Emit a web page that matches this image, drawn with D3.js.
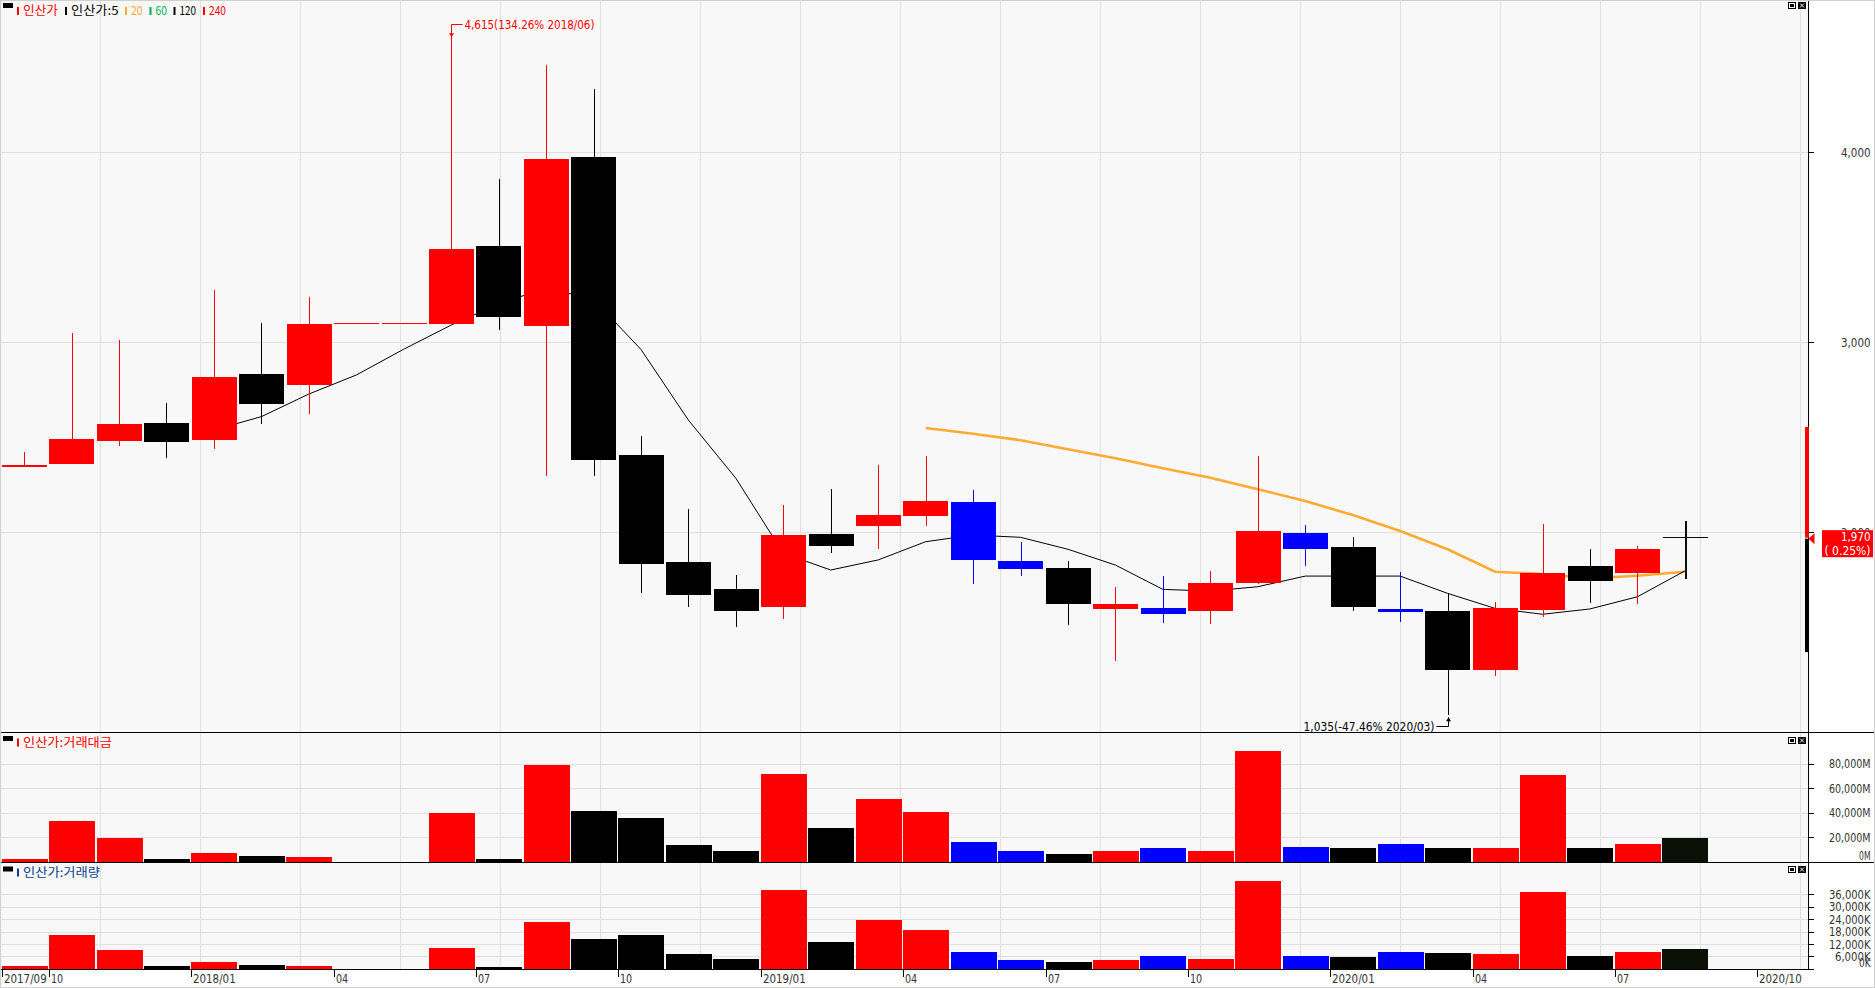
<!DOCTYPE html>
<html>
<head>
<meta charset="utf-8">
<title>인산가 월봉</title>
<script src="https://d3js.org/d3.v7.min.js"></script>
<style>
body { margin: 0; background: #fff; }
svg { display: block; }
text { font-family: "Liberation Sans Narrow", "DejaVu Sans Condensed", "Liberation Sans", sans-serif; }
text.kr { font-family: "Noto Sans CJK KR", sans-serif; }
</style>
</head>
<body>
<svg id="chart"></svg>
<script>
var width = 1875, height = 988;

// monthly candles, 2017/09 .. 2020/08 (2020/09, 2020/10 empty)
var months = ["2017/09","2017/10","2017/11","2017/12","2018/01","2018/02","2018/03","2018/04","2018/05","2018/06",
  "2018/07","2018/08","2018/09","2018/10","2018/11","2018/12","2019/01","2019/02","2019/03","2019/04",
  "2019/05","2019/06","2019/07","2019/08","2019/09","2019/10","2019/11","2019/12","2020/01","2020/02",
  "2020/03","2020/04","2020/05","2020/06","2020/07","2020/08","2020/09","2020/10"];
var opens  = [2345,2358,2478,2574,2484,2832,2774,3095,3095,3095,3504,3086,3976,2405,1842,1700,1607,1989,2032,2084,2158,1847,1810,1595,1600,1586,1732,1995,1921,1595,1584,1274,1589,1821,1784,1970];
var closes = [2352,2490,2566,2475,2816,2674,3095,3095,3095,3490,3133,3963,2379,1829,1668,1586,1984,1928,2089,2163,1853,1805,1621,1621,1568,1732,2005,1911,1605,1580,1274,1600,1784,1742,1911,1970];
var highs  = [2421,3050,3013,2679,3274,3102,3237,3095,3095,4615,3856,4460,4334,2505,2121,1774,2142,2226,2353,2400,2221,1947,1847,1711,1768,1795,2400,2037,1974,1789,1679,1632,2042,1911,1926,2058];
var lows   = [2345,2358,2452,2389,2438,2568,2623,3095,3095,3095,3065,2296,2296,1679,1607,1502,1542,1889,1911,2032,1726,1768,1511,1321,1521,1516,1728,1821,1584,1526,1035,1242,1553,1626,1621,1753];
var candleColors = ["r","r","r","k","r","k","r","r","r","r","k","r","k","k","k","k","r","k","r","r","b","b","k","r","b","r","r","b","k","b","k","r","r","k","r","d"];

// 거래대금 (M) and 거래량 (K)
var amounts = [2200,33200,19600,2200,7100,4500,3500,0,0,39700,2500,78700,41500,35700,13300,8400,71800,27900,51300,40600,16200,8400,6400,8400,11300,8400,90400,12300,11300,14300,11300,11300,70900,11300,14300,19100];
var volumes = [1300,16300,9000,1300,3200,1800,1300,0,0,10000,800,22600,14500,16300,7100,4700,38200,13000,23700,18500,8100,4200,3200,4200,6100,4700,42200,6100,5600,8100,7600,7100,37100,6100,8100,9500];

// moving averages
var ma5 = [null,null,null,null,2537,2607,2726,2826,2962,3089,3200,3284,3225,2961,2589,2283,1888,1800,1853,1949,1984,1972,1909,1826,1698,1689,1712,1768,1768,1768,1677,1598,1567,1595,1659,1795];
var ma20 = [null,null,null,null,null,null,null,null,null,null,null,null,null,null,null,null,null,null,null,2547,2517,2483,2436,2388,2336,2286,2225,2163,2089,2005,1909,1791,1779,1756,1770,1791];

var priceTicks = [2000, 3000, 4000];
var amountTicks = [0, 20000, 40000, 60000, 80000];
var volumeTicks = [0, 6000, 12000, 18000, 24000, 30000, 36000];
var xTicks = [["2017/09","2017/09"],["2017/10","10"],["2018/01","2018/01"],["2018/04","04"],["2018/07","07"],["2018/10","10"],
  ["2019/01","2019/01"],["2019/04","04"],["2019/07","07"],["2019/10","10"],["2020/01","2020/01"],["2020/04","04"],["2020/07","07"],["2020/10","2020/10"]];

var lastPrice = 1970, lastChange = "( 0.25%)";
var rangeBar = [2553, 1970, 1368];
var highNote = {month: "2018/06", price: 4615, text: "4,615(134.26% 2018/06)"};
var lowNote = {month: "2020/03", price: 1035, text: "1,035(-47.46% 2020/03)"};

var palette = { r: "#ff0000", k: "#000000", b: "#0000ff", d: "#0b1106" };

var axisX = 1808.5;
var panels = [ { top: 0, bottom: 732 }, { top: 733, bottom: 862 }, { top: 863, bottom: 969 } ];

var svg = d3.select("#chart").attr("width", width).attr("height", height);

var x = d3.scaleBand().domain(months).range([1.6, 1.6 + 47.45 * months.length]).padding(0);
var y = d3.scaleLinear().domain([2000, 4000]).range([532, 152]);
var yAmt = d3.scaleLinear().domain([0, 80000]).range([861.7, 763.7]);
var yVol = d3.scaleLinear().domain([0, 36000]).range([968.7, 894.3]);
var cx = function (m) { return Math.round(x(m) + 22.5) + 0.5; };

function label(g, px, py, s, o) {
  var t = g.append("text").attr("x", px).attr("y", py).text(s)
    .attr("fill", o.fill || "#333").attr("text-anchor", o.anchor || "start")
    .style("font-size", (o.size || 13) + "px");
  if (o.len) { t.attr("textLength", o.len).attr("lengthAdjust", "spacingAndGlyphs"); }
  if (o.cls) { t.attr("class", o.cls); }
  if (o.dy) { t.attr("dy", o.dy); }
  return t;
}

// backgrounds
svg.append("rect").attr("width", width).attr("height", height).attr("fill", "#fff");
panels.forEach(function (p) {
  svg.append("rect").attr("x", 1).attr("y", p.top).attr("width", axisX - 1).attr("height", p.bottom - p.top).attr("fill", "#f8f8f8");
});

// grid
var grid = svg.append("g").attr("stroke", "#e0e0e0").attr("shape-rendering", "crispEdges");
panels.forEach(function (p) {
  d3.range(100, 1801, 100).forEach(function (gx) {
    grid.append("line").attr("x1", gx + 0.5).attr("x2", gx + 0.5).attr("y1", p.top).attr("y2", p.bottom);
  });
});
priceTicks.forEach(function (t) { grid.append("line").attr("x1", 1).attr("x2", axisX).attr("y1", Math.round(y(t)) + 0.5).attr("y2", Math.round(y(t)) + 0.5); });
amountTicks.slice(1).forEach(function (t) { grid.append("line").attr("x1", 1).attr("x2", axisX).attr("y1", Math.round(yAmt(t)) + 0.5).attr("y2", Math.round(yAmt(t)) + 0.5); });
volumeTicks.slice(1).forEach(function (t) { grid.append("line").attr("x1", 1).attr("x2", axisX).attr("y1", Math.round(yVol(t)) + 0.5).attr("y2", Math.round(yVol(t)) + 0.5); });

var data = closes.map(function (c, i) {
  return { m: months[i], o: opens[i], c: c, h: highs[i], l: lows[i], col: palette[candleColors[i]], amt: amounts[i], vol: volumes[i] };
});

// moving averages (under the candles)
var line = d3.line().defined(function (d) { return d != null; })
  .x(function (d, i) { return x(months[i]) + 22.5; }).y(function (d) { return y(d); });
svg.append("path").attr("d", line(ma20)).attr("fill", "none").attr("stroke", "#ffaa33").attr("stroke-width", 2.6);
svg.append("path").attr("d", line(ma5)).attr("fill", "none").attr("stroke", "#000").attr("stroke-width", 1);

// candles
var cg = svg.append("g").attr("shape-rendering", "crispEdges");
cg.selectAll("line.wick").data(data).enter().append("line")
  .attr("x1", function (d) { return cx(d.m); }).attr("x2", function (d) { return cx(d.m); })
  .attr("y1", function (d) { return y(d.h); }).attr("y2", function (d) { return y(d.l); })
  .attr("stroke", function (d) { return d.col; }).attr("stroke-width", function (d) { return d.col == palette.d ? 2 : 1; });
cg.selectAll("rect.body").data(data).enter().append("rect")
  .attr("x", function (d) { return x(d.m) + 0.3; })
  .attr("width", 45)
  .attr("y", function (d) { return Math.min(y(d.o), y(d.c)) - (d.o == d.c ? 1 : 0); })
  .attr("height", function (d) { return Math.max(Math.abs(y(d.o) - y(d.c)), 1.5); })
  .attr("fill", function (d) { return d.col; });

// volume panels
cg.selectAll("rect.amt").data(data.filter(function (d) { return d.amt > 0; })).enter().append("rect")
  .attr("x", function (d) { return x(d.m); }).attr("width", 46)
  .attr("y", function (d) { return yAmt(d.amt); })
  .attr("height", function (d) { return yAmt(0) - yAmt(d.amt); })
  .attr("fill", function (d) { return d.col; });
cg.selectAll("rect.vol").data(data.filter(function (d) { return d.vol > 0; })).enter().append("rect")
  .attr("x", function (d) { return x(d.m); }).attr("width", 46)
  .attr("y", function (d) { return yVol(d.vol); })
  .attr("height", function (d) { return yVol(0) - yVol(d.vol); })
  .attr("fill", function (d) { return d.col; });

// high / low notes
var hx = cx(highNote.month), hy = y(highNote.price);
svg.append("polyline").attr("points", [[hx + 11, 24.5], [hx, 24.5], [hx, hy]].join(" "))
  .attr("fill", "none").attr("stroke", "#ff0000");
svg.append("path").attr("d", "M" + (hx - 2.5) + "," + (hy - 2) + "L" + (hx + 2.5) + "," + (hy - 2) + "L" + hx + "," + (hy + 2) + "Z").attr("fill", "#ff0000");
label(svg, hx + 13, 29, highNote.text, { fill: "#ff0000", size: 12.5, len: 130 });

var lx = cx(lowNote.month), ly = y(lowNote.price);
svg.append("polyline").attr("points", [[lx - 12, 726.5], [lx, 726.5], [lx, ly + 2]].join(" "))
  .attr("fill", "none").attr("stroke", "#000");
svg.append("path").attr("d", "M" + (lx - 2.5) + "," + (ly + 6) + "L" + (lx + 2.5) + "," + (ly + 6) + "L" + lx + "," + (ly + 2) + "Z").attr("fill", "#000");
label(svg, lx - 14, 730.5, lowNote.text, { fill: "#000", size: 12.5, len: 131, anchor: "end" });

// frame lines
var frame = svg.append("g").attr("stroke", "#000").attr("shape-rendering", "crispEdges");
frame.append("line").attr("x1", 0.5).attr("x2", 0.5).attr("y1", 0).attr("y2", 969);
frame.append("line").attr("x1", 0).attr("x2", width).attr("y1", 732.5).attr("y2", 732.5);
frame.append("line").attr("x1", 0).attr("x2", width).attr("y1", 862.5).attr("y2", 862.5);
frame.append("line").attr("x1", 0).attr("x2", axisX).attr("y1", 969.5).attr("y2", 969.5);
frame.append("line").attr("x1", axisX).attr("x2", axisX).attr("y1", 0).attr("y2", 970);
svg.append("rect").attr("x", 0.5).attr("y", 0.5).attr("width", width - 1.5).attr("height", height - 1.5)
  .attr("fill", "none").attr("stroke", "#d0d0d0").attr("shape-rendering", "crispEdges");
frame.append("line").attr("x1", 0.5).attr("x2", 0.5).attr("y1", 0).attr("y2", 969);

// right axes
var labelRight = 1870.5;
function rightAxis(scale, ticks, fmt, bottom) {
  ticks.forEach(function (t) {
    var ty = Math.round(scale(t)) + 0.5;
    frame.append("line").attr("x1", axisX).attr("x2", axisX + 5).attr("y1", ty).attr("y2", ty);
    var s = fmt(t);
    var ly2 = Math.min(scale(t), bottom - 7);
    label(svg, labelRight, ly2, s, { anchor: "end", dy: "0.36em", len: s.length * 6 - 0.5, fill: "#333" });
  });
}
var comma = d3.format(",");
rightAxis(y, priceTicks, function (t) { return comma(t); }, 732);
rightAxis(yAmt, amountTicks, function (t) { return comma(t) + "M"; }, 862);
rightAxis(yVol, volumeTicks, function (t) { return comma(t) + "K"; }, 969);

// range bar and current price marker
svg.append("rect").attr("x", 1805).attr("width", 4).attr("y", y(rangeBar[0])).attr("height", y(rangeBar[1]) - y(rangeBar[0])).attr("fill", "#ff0000");
svg.append("rect").attr("x", 1805).attr("width", 4).attr("y", y(rangeBar[1]) + 1).attr("height", y(rangeBar[2]) - y(rangeBar[1]) - 1).attr("fill", "#000");
var py = y(lastPrice);
svg.append("path").attr("d", "M" + 1808.5 + "," + (py + 1) + "L" + 1814.5 + "," + (py - 4.5) + "L" + 1814.5 + "," + (py + 6.5) + "Z").attr("fill", "#ff0000");
svg.append("rect").attr("x", 1822).attr("y", py - 7.5).attr("width", 51).attr("height", 27).attr("fill", "#ff0000");
label(svg, labelRight, py + 3.5, comma(lastPrice), { fill: "#fff", anchor: "end", len: 29.5 });
label(svg, labelRight, py + 17.5, lastChange, { fill: "#fff", anchor: "end", len: 46 });

// x axis
xTicks.forEach(function (t) {
  var tx = Math.round(x(t[0])) + 0.5;
  frame.append("line").attr("x1", tx).attr("x2", tx).attr("y1", 970).attr("y2", 977);
  label(svg, tx + 1.5, 983, t[1], { len: t[1].length * 6.1, fill: "#333" });
});

// legends
function legendBox(ly0) {
  svg.append("rect").attr("x", 3).attr("y", ly0).attr("width", 10).attr("height", 5).attr("fill", "#000");
}
function legendItem(lx0, ly0, col, s, len) {
  svg.append("rect").attr("x", lx0).attr("y", ly0 - 8).attr("width", 2).attr("height", 8).attr("fill", col);
  return label(svg, lx0 + 6, ly0, s, { fill: col, size: 12, len: len, cls: "kr" });
}
legendBox(3);
legendItem(17, 15, "#ff0000", "인산가", 35);
legendItem(65, 15, "#000", "인산가:5", 47.5);
legendItem(125, 15, "#ffaa33", "20", 11.5);
legendItem(149.5, 15, "#00b050", "60", 11.5);
legendItem(173.5, 15, "#000", "120", 16.5);
legendItem(203, 15, "#ff0000", "240", 17);
legendBox(736);
legendItem(17, 746.5, "#ff0000", "인산가:거래대금", 89);
legendBox(866.5);
legendItem(17, 876.5, "#0a3d8f", "인산가:거래량", 77);

// panel buttons
[2, 737, 866].forEach(function (by) {
  svg.append("rect").attr("x", 1788.5).attr("y", by + 0.5).attr("width", 7).attr("height", 6).attr("fill", "#fff").attr("stroke", "#000").attr("shape-rendering", "crispEdges");
  svg.append("rect").attr("x", 1790).attr("y", by + 2).attr("width", 4).attr("height", 3).attr("fill", "#000");
  svg.append("rect").attr("x", 1798).attr("y", by).attr("width", 8).attr("height", 7).attr("fill", "#000");
  svg.append("path").attr("d", "M1800," + (by + 1.5) + "L1804," + (by + 5.5) + "M1804," + (by + 1.5) + "L1800," + (by + 5.5)).attr("stroke", "#fff").attr("stroke-width", 1);
});
</script>
</body>
</html>
